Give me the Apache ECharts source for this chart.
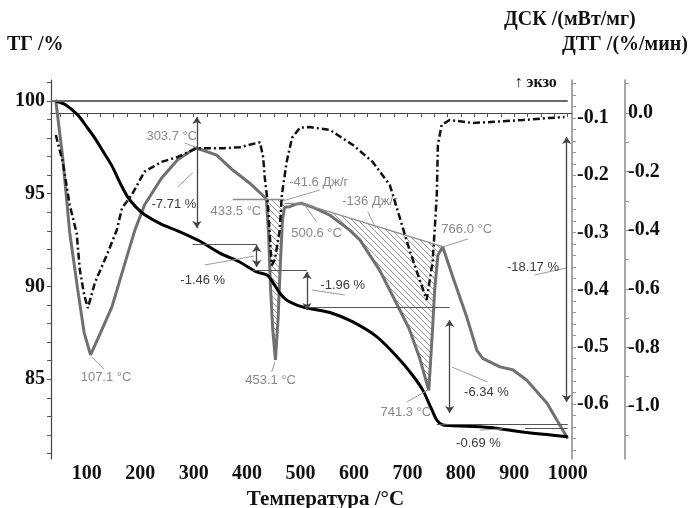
<!DOCTYPE html>
<html>
<head>
<meta charset="utf-8">
<title>ТГ / ДСК / ДТГ</title>
<script src="https://cdn.jsdelivr.net/npm/echarts@6.0.0/dist/echarts.min.js"></script>
<style>
  html, body { margin: 0; padding: 0; background: #fff; }
  #chart { width: 689px; height: 508px; }
</style>
</head>
<body>
<div id="chart"></div>
<script>
// ТГ, % (чёрная сплошная)
var tgTemp = [42,60,83,100,115,130,147,162,177,193,209,240,270,311,349,386,418,437,448,461,474,493,512,555,598,643,686,710,729,745,755,765,779,854,916,1000];
var tgVal  = [100,99.8,99.25,98.6,98.0,97.3,96.5,95.6,94.8,94.25,93.85,93.35,93.0,92.45,91.8,91.32,90.78,90.62,90.24,89.65,89.27,89.0,88.84,88.6,88.09,87.28,86.04,85.2,84.4,83.4,82.8,82.55,82.5,82.4,82.15,81.9];

// ДСК, мВт/мг (серая)
var dscTemp = [42,55,68,83,95,107,125,147,170,190,208,240,270,304,343,373,405,429,436,440,444,448,453,458,462,466,470,480,490,501,523,555,592,611,648,686,704,723,740,747,751,757,766,785,811,830,841,873,897,923,961,1000];
var dscVal  = [-0.07,-0.17,-0.30,-0.40,-0.475,-0.514,-0.477,-0.43,-0.358,-0.296,-0.252,-0.205,-0.173,-0.152,-0.165,-0.191,-0.214,-0.235,-0.242,-0.30,-0.40,-0.47,-0.523,-0.45,-0.36,-0.28,-0.256,-0.255,-0.251,-0.249,-0.256,-0.27,-0.296,-0.313,-0.366,-0.436,-0.47,-0.52,-0.576,-0.47,-0.40,-0.34,-0.325,-0.378,-0.448,-0.506,-0.52,-0.535,-0.54,-0.558,-0.598,-0.66];

// ДТГ, %/мин (штрих-пунктир)
var dtgTemp = [42,55,68,81,87,95,102,115,139,156,166,184,208,240,270,306,358,386,424,430,433,439,446,452,461,465,474,484,499,517,555,598,635,667,673,691,704,723,736,747,751,755,757,764,779,822,854,916,966,994];
var dtgVal  = [-0.075,-0.167,-0.314,-0.41,-0.536,-0.62,-0.666,-0.58,-0.478,-0.40,-0.324,-0.28,-0.20,-0.167,-0.15,-0.12,-0.12,-0.117,-0.10,-0.15,-0.22,-0.314,-0.52,-0.50,-0.40,-0.28,-0.167,-0.085,-0.05,-0.048,-0.058,-0.109,-0.167,-0.246,-0.28,-0.39,-0.468,-0.57,-0.638,-0.51,-0.40,-0.28,-0.109,-0.041,-0.024,-0.034,-0.031,-0.024,-0.017,-0.014];

// подписи осей
var xTicks   = [100,200,300,400,500,600,700,800,900,1000];
var tgTicks  = [85,90,95,100];
var dscTicks = [-0.1,-0.2,-0.3,-0.4,-0.5,-0.6];
var dtgTicks = [0,-0.2,-0.4,-0.6,-0.8,-1.0];

// базовые линии пиков ДСК (заштрихованные площади)
var peak1Base = [[436,-0.2416],[470,-0.2416]];
var peak2Base = [[501,-0.249],[766,-0.325]];

// подписи на графике (в координатах ТГ)
var tempLabels = [
  ['303.7 °C',259,98.11],['433.5 °C',379,94.02],['-41.6 Дж/г',534,95.63],['500.6 °C',530,92.88],
  ['-136 Дж/г',630,94.56],['766.0 °C',811,93.10],['107.1 °C',136,85.12],['453.1 °C',444,84.96],['741.3 °C',697,83.23]
];
var lossLabels = [
  ['-7.71 %',263,94.40],['-18.17 %',935,91.05],['-1.46 %',317,90.35],['-1.96 %',579,90.08],['-6.34 %',848,84.31],['-0.69 %',833,81.56]
];
var leaders = [
  [[283,97.74],[306,97.47]],[[270,95.36],[298,96.12]],[[536,95.20],[461,94.56]],[[508,94.39],[530,93.48]],
  [[626,94.02],[641,93.15]],[[813,92.56],[766,92.13]],[[938,90.62],[998,91.0]],[[321,91.16],[414,91.64]],
  [[521,89.81],[583,89.54]],[[783,85.66],[850,84.85]],[[835,82.26],[878,82.32]],[[109,86.20],[132,85.55]],
  [[452,85.93],[446,85.39]],[[738,84.42],[699,83.77]]
];
var stepLines = [
  [[298,92.29],[418,92.29]],[[411,90.89],[512,90.89]],[[508,88.89],[779,88.89]],[[755,82.59],[1000,82.59]],[[920,82.35],[1000,82.35]]
];
var lossArrows = [
  [[306,99.14],[306,93.15]],[[418,92.24],[418,91.05]],[[512,90.78],[512,88.73]],[[779,88.19],[779,83.18]],[[998,98.06],[998,83.77]]
];

function pairs(xs, ys) {
  var out = [];
  for (var i = 0; i < xs.length; i++) out.push([xs[i], ys[i]]);
  return out;
}

var serif = '"Liberation Serif", "DejaVu Serif", serif';
var sans = '"Liberation Sans", Arial, sans-serif';

// мелкие деления
var xMinor = [], tgMinor = [], dscMinor = [], dtgMinor = [];
for (var i = 2; i <= 40; i++) xMinor.push(i * 25);
for (var i = 81; i <= 101; i++) tgMinor.push(i);
for (var i = 2; i <= 34; i++) dscMinor.push(-i / 50);
for (var i = -1; i <= 11; i++) dtgMinor.push(-i / 10);

// штриховка
var hatch = document.createElement('canvas');
hatch.width = 6; hatch.height = 6;
var hc = hatch.getContext('2d');
hc.strokeStyle = '#8a8a8a';
hc.lineWidth = 0.9;
hc.beginPath();
hc.moveTo(0, 0); hc.lineTo(6, 6);
hc.moveTo(-1, 5); hc.lineTo(1, 7);
hc.moveTo(5, -1); hc.lineTo(7, 1);
hc.stroke();

function baseAt(b, t) {
  return b[0][1] + (b[1][1] - b[0][1]) * (t - b[0][0]) / (b[1][0] - b[0][0]);
}
// контур: кривая ДСК между концами базовой линии, затем сама базовая линия
function hatchOutline(b) {
  var pts = [];
  for (var i = 0; i < dscTemp.length; i++) {
    var t = dscTemp[i];
    if (t < b[0][0] || t > b[1][0]) continue;
    pts.push([t, dscVal[i]]);
  }
  pts.push([b[1][0], baseAt(b, b[1][0])]);
  pts.push([b[0][0], baseAt(b, b[0][0])]);
  return pts;
}
function hatchSeries(b) {
  var outline = hatchOutline(b);
  return {
    type: 'custom', yAxisIndex: 1, silent: true, z: 2,
    data: [b[0]],
    renderItem: function (params, api) {
      return {
        type: 'polygon',
        shape: { points: outline.map(function (p) { return api.coord(p); }) },
        style: { fill: { image: hatch, repeat: 'repeat' }, stroke: null }
      };
    }
  };
}

function seg(p, style, sym) {
  return [
    { coord: p[0], symbol: sym, lineStyle: style },
    { coord: p[1], symbol: sym }
  ];
}

var tgMarks = [];
tgMarks.push(seg([[33,100],[1000,100]], { color: '#6a6a6a', width: 2, type: 'solid' }, 'none'));
leaders.forEach(function (p) { tgMarks.push(seg(p, { color: '#9a9a9a', width: 1, type: 'solid' }, 'none')); });
stepLines.forEach(function (p) { tgMarks.push(seg(p, { color: '#555', width: 1.2, type: 'solid' }, 'none')); });
lossArrows.forEach(function (p) { tgMarks.push(seg(p, { color: '#444', width: 1.3, type: 'solid' }, 'arrow')); });

var pointMarks = [];
tempLabels.forEach(function (l) {
  pointMarks.push({ name: l[0], coord: [l[1], l[2]], label: { color: '#8a8a8a' } });
});
lossLabels.forEach(function (l) {
  pointMarks.push({ name: l[0], coord: [l[1], l[2]], label: { color: '#3a3a3a' } });
});
pointMarks.push({ name: '↑ экзо', coord: [940, 101.0],
  label: { color: '#111', fontFamily: serif, fontWeight: 'bold', fontSize: 16 } });

var axisFont = { fontFamily: serif, fontWeight: 'bold', fontSize: 20, color: '#111' };

var chart = echarts.init(document.getElementById('chart'), null, { renderer: 'canvas' });
var option = {
  animation: false,
  backgroundColor: '#fff',
  grid: { left: 51, right: 117, top: 80, bottom: 49, outerBoundsMode: 'none' },
  graphic: [
    { type: 'text', left: 7, top: 35, style: { text: 'ТГ /%', font: 'bold 20px ' + serif, fill: '#111' } },
    { type: 'text', left: 504, top: 10, style: { text: 'ДСК /(мВт/мг)', font: 'bold 20px ' + serif, fill: '#111' } },
    { type: 'text', left: 562, top: 35, style: { text: 'ДТГ /(%/мин)', font: 'bold 20px ' + serif, fill: '#111' } }
  ],
  xAxis: {
    type: 'value', min: 33, max: 1008,
    name: 'Температура /°C', nameLocation: 'middle', nameGap: 27,
    nameTextStyle: { fontFamily: serif, fontWeight: 'bold', fontSize: 21, color: '#111', padding: [0, 0, 0, 28] },
    axisLine: { lineStyle: { color: '#444', width: 1.2 } },
    axisTick: { customValues: xMinor, length: 4, lineStyle: { color: '#555' } },
    axisLabel: Object.assign({ customValues: xTicks, margin: 5, formatter: function (v) { return String(v); } }, axisFont),
    splitLine: { show: false }
  },
  yAxis: [
    {
      type: 'value', min: 80.7, max: 101.13, position: 'left',
      axisLine: { show: true, lineStyle: { color: '#444', width: 1.2 } },
      axisTick: { show: true, customValues: tgMinor, length: 4, lineStyle: { color: '#555' } },
      axisLabel: Object.assign({ customValues: tgTicks, margin: 6 }, axisFont),
      splitLine: { show: false }
    },
    {
      type: 'value', min: -0.696, max: -0.0336, position: 'right', offset: 0,
      axisLine: { show: true, lineStyle: { color: '#8a8a8a', width: 1.5 } },
      axisTick: { show: true, customValues: dscMinor, length: 4, lineStyle: { color: '#999' } },
      axisLabel: Object.assign({ customValues: dscTicks, margin: 5, formatter: function (v) { return v.toFixed(1); } }, axisFont),
      splitLine: { show: false }
    },
    {
      type: 'value', min: -1.181, max: 0.1126, position: 'right', offset: 53,
      axisLine: { show: true, lineStyle: { color: '#8a8a8a', width: 1.5 } },
      axisTick: { show: true, customValues: dtgMinor, length: 4, lineStyle: { color: '#999' } },
      axisLabel: Object.assign({ customValues: dtgTicks, margin: 3, formatter: function (v) { return v.toFixed(1); } }, axisFont),
      splitLine: { show: false }
    }
  ],
  series: [
    hatchSeries(peak1Base),
    hatchSeries(peak2Base),
    {
      name: 'ДСК', type: 'line', yAxisIndex: 1, data: pairs(dscTemp, dscVal), symbol: 'none',
      lineStyle: { color: '#707070', width: 3 }, z: 3,
      markLine: {
        silent: true, animation: false, symbol: 'none', label: { show: false },
        lineStyle: { color: '#8c8c8c', width: 1.3, type: 'solid' },
        data: [
          [{ coord: [373, -0.2416] }, { coord: [470, -0.2416] }],
          [{ coord: [470, -0.249] }, { coord: [501, -0.249] }],
          [{ coord: peak2Base[0] }, { coord: peak2Base[1] }]
        ]
      }
    },
    {
      name: 'ТГ', type: 'line', yAxisIndex: 0, data: pairs(tgTemp, tgVal), symbol: 'none', smooth: 0.3,
      lineStyle: { color: '#000', width: 3 }, z: 4,
      markLine: {
        silent: true, animation: false, symbolSize: 7, label: { show: false },
        data: tgMarks
      },
      markPoint: {
        silent: true, animation: false, symbol: 'circle', symbolSize: 1,
        itemStyle: { color: 'rgba(0,0,0,0)' },
        label: { show: true, position: 'inside', formatter: '{b}', fontFamily: sans, fontSize: 13 },
        data: pointMarks
      }
    },
    {
      name: 'ДТГ', type: 'line', yAxisIndex: 2, data: pairs(dtgTemp, dtgVal), symbol: 'none',
      lineStyle: { color: '#111', width: 2.5, type: [7, 3, 2, 3] }, z: 5
    }
  ]
};
chart.setOption(option);
</script>
</body>
</html>
